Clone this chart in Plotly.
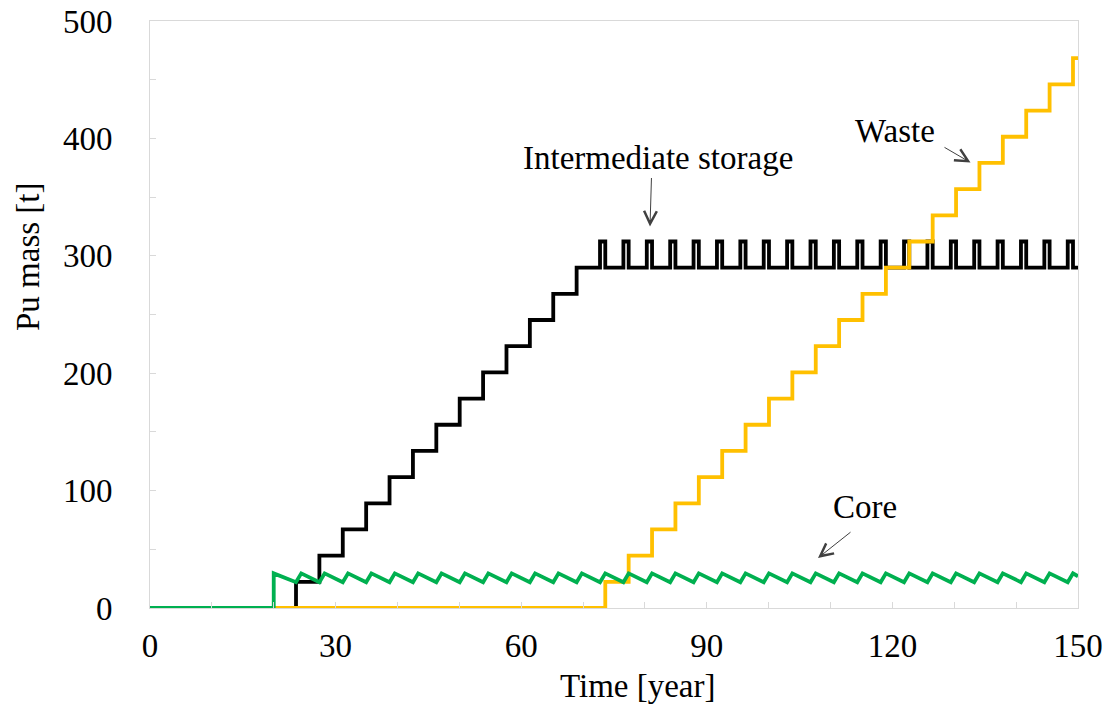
import plotly.graph_objects as go

# ---------------- data ----------------
# reload / transfer years (each ~3.78 years)
reload_years = [23.60, 27.38, 31.16, 34.94, 38.72, 42.50, 46.28, 50.06, 53.84,
                57.62, 61.40, 65.18, 68.96, 72.74, 76.52, 80.30, 84.08, 87.86,
                91.64, 95.42, 99.20, 102.98, 106.76, 110.54, 114.32, 118.10,
                121.88, 125.66, 129.44, 133.22, 137.00, 140.78, 144.56, 148.34]
# years where the core peaks again / the storage spike ends / waste steps up
after_years = [24.45, 28.23, 32.01, 35.79, 39.57, 43.35, 47.13, 50.91, 54.69,
               58.47, 62.25, 66.03, 69.81, 73.59, 77.37, 81.15, 84.93, 88.71,
               92.49, 96.27, 100.05, 103.83, 107.61, 111.39, 115.17, 118.95,
               122.73, 126.51, 130.29, 134.07, 137.85, 141.63, 145.41, 149.19]

core_start_year = 20.0
core_peak = 29.5
core_trough = 22.0
core_end_value = 27.0

storage_levels = [22.3, 44.6, 66.9, 89.2, 111.5, 133.8, 156.1, 178.4, 200.7,
                  223.0, 245.3, 267.6, 289.9]
storage_plateau = 289.9
storage_spike = 312.2

waste_levels = [22.3, 44.6, 66.9, 89.2, 111.5, 133.8, 156.1, 178.4, 200.7,
                223.0, 245.3, 267.6, 289.9, 312.2, 334.5, 356.8, 379.1, 401.4,
                423.7, 446.0, 468.3]

x_end = 150

# ---------------- build trace coordinates ----------------
# Intermediate storage
st_x, st_y = [0], [0]
n_fill = len(storage_levels)
for t, v in zip(reload_years[:n_fill], storage_levels):
    st_x += [t, t]
    st_y += [st_y[-1], v]
for t0, t1 in zip(reload_years[n_fill:], after_years[n_fill:]):
    st_x += [t0, t0, t1, t1]
    st_y += [storage_plateau, storage_spike, storage_spike, storage_plateau]
st_x.append(x_end)
st_y.append(storage_plateau)

# Waste
wa_x, wa_y = [0], [0]
for t, v in zip(after_years[n_fill:], waste_levels):
    wa_x += [t, t]
    wa_y += [wa_y[-1], v]
wa_x.append(x_end)
wa_y.append(wa_y[-1])

# Core
co_x = [0, core_start_year, core_start_year]
co_y = [0, 0, core_peak]
for t0, t1 in zip(reload_years, after_years):
    co_x += [t0, t1]
    co_y += [core_trough, core_peak]
co_x.append(x_end)
co_y.append(core_end_value)

# ---------------- figure ----------------
FONT = "Liberation Serif, Times New Roman, serif"
GRAY = "#D9D9D9"
FS = 33

fig = go.Figure()
fig.add_trace(go.Scatter(x=st_x, y=st_y, mode="lines", name="Intermediate storage",
                         line=dict(color="#000000", width=3.8)))
fig.add_trace(go.Scatter(x=wa_x, y=wa_y, mode="lines", name="Waste",
                         line=dict(color="#FFC000", width=3.8)))
fig.add_trace(go.Scatter(x=co_x, y=co_y, mode="lines", name="Core",
                         line=dict(color="#00B050", width=3.8)))

def px2x(px):
    return (px - 150) / (928 / 150)

def py2y(py):
    return (608 - py) / (587 / 500)

txtfont = dict(size=FS, family=FONT, color="#000")
annotations = [
    dict(text="Intermediate storage", x=px2x(658), y=py2y(158), xref="x", yref="y",
         xanchor="center", yanchor="middle", showarrow=False, font=txtfont),
    dict(text="Waste", x=px2x(895), y=py2y(131), xref="x", yref="y",
         xanchor="center", yanchor="middle", showarrow=False, font=txtfont),
    dict(text="Core", x=px2x(865), y=py2y(507), xref="x", yref="y",
         xanchor="center", yanchor="middle", showarrow=False, font=txtfont),
    dict(text="Time [year]", x=(638 - 150) / 928, y=(608 - 686) / 587,
         xref="paper", yref="paper", xanchor="center", yanchor="middle",
         showarrow=False, font=txtfont),
    dict(text="Pu mass [t]", x=(28 - 150) / 928, y=(608 - 257) / 587,
         xref="paper", yref="paper", xanchor="center", yanchor="middle",
         showarrow=False, textangle=-90, font=txtfont),
]
arrows = [((651.5, 176.5), (650, 226.5)),
          ((943, 146.5), (970.5, 162.5)),
          ((852, 531), (818, 558))]
for (tx, ty), (hx, hy) in arrows:
    annotations.append(dict(x=px2x(hx), y=py2y(hy), ax=px2x(tx), ay=py2y(ty),
                            xref="x", yref="y", axref="x", ayref="y", text="",
                            showarrow=True, arrowhead=5, arrowsize=2.5,
                            arrowwidth=1, arrowcolor="#404040"))

fig.update_layout(
    width=1110, height=711,
    margin=dict(l=150, r=32, t=21, b=103, autoexpand=False),
    paper_bgcolor="white", plot_bgcolor="white",
    showlegend=False,
    font=dict(family=FONT, size=FS, color="#000"),
    annotations=annotations,
)
fig.update_xaxes(range=[0, 150], tickmode="linear", tick0=0, dtick=30,
                 ticks="inside", ticklen=6, tickcolor=GRAY, automargin=False,
                 minor=dict(dtick=10, ticks="inside", ticklen=6, tickcolor=GRAY),
                 showgrid=False, zeroline=False, showline=True, linecolor=GRAY,
                 linewidth=1, mirror=True, ticklabelstandoff=8,
                 tickfont=txtfont)
fig.update_yaxes(range=[0, 500], tickmode="linear", tick0=0, dtick=100,
                 ticks="inside", ticklen=6, tickcolor=GRAY, automargin=False,
                 minor=dict(dtick=50, ticks="inside", ticklen=6, tickcolor=GRAY),
                 showgrid=False, zeroline=False, showline=True, linecolor=GRAY,
                 linewidth=1, mirror=True, ticklabelstandoff=30,
                 tickfont=txtfont)

fig.write_html("out.html")
